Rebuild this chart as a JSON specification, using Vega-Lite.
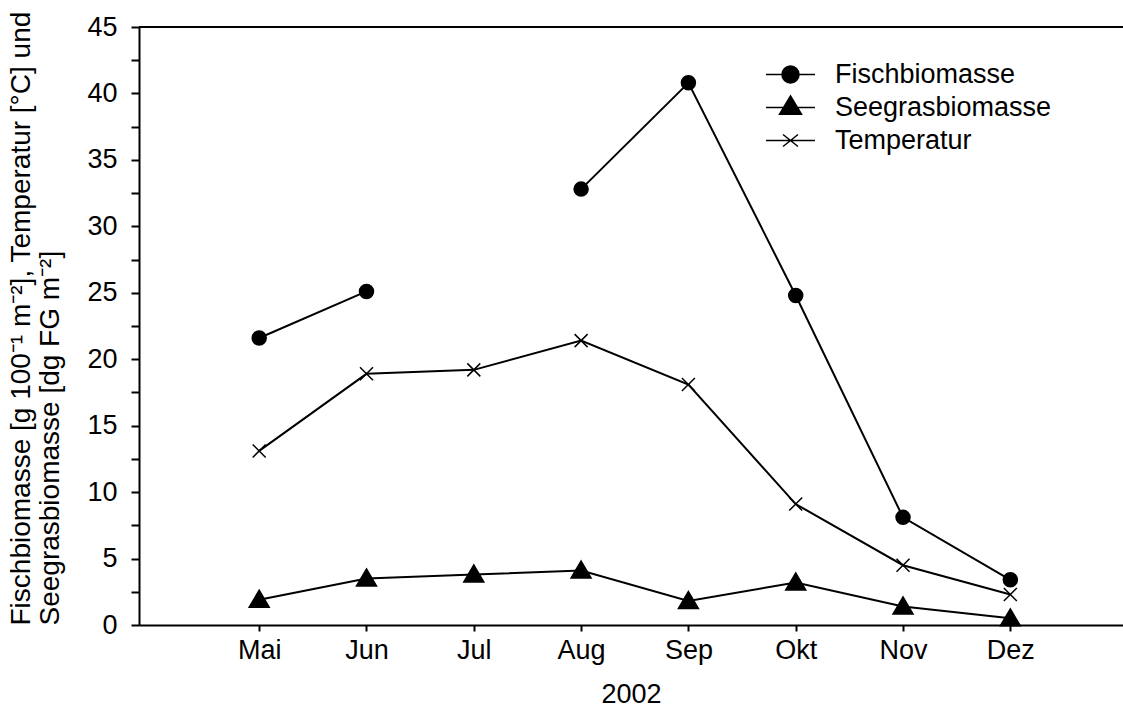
{
  "$schema": "https://vega.github.io/schema/vega-lite/v6.json",
  "width": 984,
  "height": 598,
  "autosize": {"type": "none"},
  "padding": {"left": 139, "top": 27, "right": 0, "bottom": 83},
  "config": {
    "view": {"stroke": null},
    "font": "Liberation Sans",
    "axis": {"grid": false, "domainColor": "black", "domainWidth": 2, "tickColor": "black", "tickWidth": 2, "labelColor": "black", "titleColor": "black", "labelFont": "Liberation Sans", "titleFont": "Liberation Sans", "labelFontSize": 27, "titleFontSize": 27, "titleFontWeight": "normal"}
  },
  "data": {"values": [
    {"month": 5, "series": "Fischbiomasse", "seg": 1, "value": 21.6},
    {"month": 6, "series": "Fischbiomasse", "seg": 1, "value": 25.1},
    {"month": 8, "series": "Fischbiomasse", "seg": 2, "value": 32.8},
    {"month": 9, "series": "Fischbiomasse", "seg": 2, "value": 40.8},
    {"month": 10, "series": "Fischbiomasse", "seg": 2, "value": 24.8},
    {"month": 11, "series": "Fischbiomasse", "seg": 2, "value": 8.1},
    {"month": 12, "series": "Fischbiomasse", "seg": 2, "value": 3.4},
    {"month": 5, "series": "Seegrasbiomasse", "seg": 1, "value": 1.9},
    {"month": 6, "series": "Seegrasbiomasse", "seg": 1, "value": 3.5},
    {"month": 7, "series": "Seegrasbiomasse", "seg": 1, "value": 3.8},
    {"month": 8, "series": "Seegrasbiomasse", "seg": 1, "value": 4.1},
    {"month": 9, "series": "Seegrasbiomasse", "seg": 1, "value": 1.8},
    {"month": 10, "series": "Seegrasbiomasse", "seg": 1, "value": 3.2},
    {"month": 11, "series": "Seegrasbiomasse", "seg": 1, "value": 1.4},
    {"month": 12, "series": "Seegrasbiomasse", "seg": 1, "value": 0.5},
    {"month": 5, "series": "Temperatur", "seg": 1, "value": 13.1},
    {"month": 6, "series": "Temperatur", "seg": 1, "value": 18.9},
    {"month": 7, "series": "Temperatur", "seg": 1, "value": 19.2},
    {"month": 8, "series": "Temperatur", "seg": 1, "value": 21.4},
    {"month": 9, "series": "Temperatur", "seg": 1, "value": 18.1},
    {"month": 10, "series": "Temperatur", "seg": 1, "value": 9.1},
    {"month": 11, "series": "Temperatur", "seg": 1, "value": 4.5},
    {"month": 12, "series": "Temperatur", "seg": 1, "value": 2.3}
  ]},
  "encoding": {
    "x": {"field": "month", "type": "quantitative",
      "scale": {"domain": [3.88, 13.05], "nice": false, "zero": false},
      "axis": {"values": [5, 6, 7, 8, 9, 10, 11, 12], "tickSize": 6, "labelPadding": 6,
        "labelExpr": "['','','','','','Mai','Jun','Jul','Aug','Sep','Okt','Nov','Dez'][datum.value]",
        "title": "2002", "titlePadding": 18}},
    "y": {"field": "value", "type": "quantitative",
      "scale": {"domain": [0, 45], "nice": false},
      "axis": {"values": [0, 2.5, 5, 7.5, 10, 12.5, 15, 17.5, 20, 22.5, 25, 27.5, 30, 32.5, 35, 37.5, 40, 42.5, 45],
        "tickSize": 8, "labelPadding": 14,
        "labelExpr": "datum.value % 5 === 0 ? datum.label : ''",
        "encode": {"ticks": {"update": {"x2": {"signal": "datum.value % 5 === 0 ? -8 : -5"}}}},
        "title": ["Fischbiomasse [g  100⁻¹ m⁻²], Temperatur [°C] und", "Seegrasbiomasse [dg FG m⁻²]"],
        "titleFontSize": 28, "titleLineHeight": 29, "titlePadding": 22, "titleAnchor": "start"}}
  },
  "layer": [
    {"mark": {"type": "rule", "color": "black", "strokeWidth": 2}, "encoding": {"x": {"value": 0}, "x2": {"value": 984}, "y": {"datum": 45}}},
    {"mark": {"type": "line", "color": "black", "strokeWidth": 2},
      "encoding": {"detail": [{"field": "series"}, {"field": "seg"}]}},
    {"mark": {"type": "point", "filled": true, "fill": "black", "stroke": "black", "strokeWidth": 1.5, "opacity": 1, "size": 4},
      "encoding": {
        "shape": {"field": "series", "type": "nominal",
          "scale": {"domain": ["Fischbiomasse", "Seegrasbiomasse", "Temperatur"], "range": ["M7,0A7,7,0,1,1,-7,0A7,7,0,1,1,7,0Z", "M0,-9.5L10,7.5L-10,7.5Z", "M-6.5,-6.5L6.5,6.5M6.5,-6.5L-6.5,6.5"]},
          "legend": null}
      }},
    {"transform": [{"filter": "datum.month > 100"}],
      "mark": {"type": "point", "filled": true, "fill": "black", "stroke": "black", "strokeWidth": 2, "opacity": 1, "size": 4},
      "encoding": {
        "shape": {"field": "series", "type": "nominal",
          "scale": {"domain": ["Fischbiomasse", "Seegrasbiomasse", "Temperatur"], "range": ["M-24.5,0H24.5M8.5,0A8.5,8.5,0,1,1,-8.5,0A8.5,8.5,0,1,1,8.5,0Z", "M-24.5,0H24.5M0,-11.5L11,6.7L-11,6.7Z", "M-24.5,0H24.5M-7.5,-6L7.5,6M7.5,-6L-7.5,6"]},
          "legend": {"title": null, "orient": "none", "legendX": 638, "legendY": 34, "padding": 0,
            "symbolSize": 4, "labelOffset": 31, "rowPadding": 5, "labelFontSize": 27, "labelFont": "Liberation Sans", "labelColor": "black", "labelLimit": 400,
            "encode": {"symbols": {"update": {"fill": {"value": "black"}, "stroke": {"value": "black"}, "strokeWidth": {"value": 2}, "opacity": {"value": 1}}}}}}
      }}
  ],
  "resolve": {"scale": {"shape": "independent"}}
}
